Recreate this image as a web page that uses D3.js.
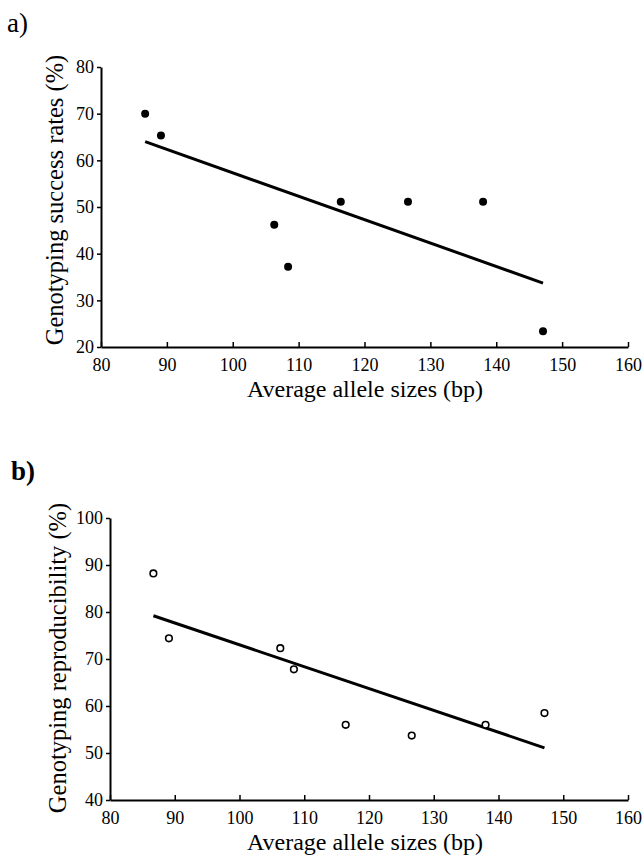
<!DOCTYPE html>
<html>
<head>
<meta charset="utf-8">
<script src="https://cdn.jsdelivr.net/npm/d3@7"></script>
<style>
  body { margin: 0; background: #fff; }
  svg, text { font-family: "Liberation Serif", "Times New Roman", serif; fill: #000; }
</style>
</head>
<body>
<div id="chart"></div>
<script>
// allele sizes (bp), same for both panels
const alleleSizes = [86.7, 89.1, 106.3, 108.4, 116.4, 126.6, 138.0, 147.1];
// panel a: genotyping success rates (%)
const successRates = [70.0, 65.3, 46.2, 37.2, 51.1, 51.1, 51.1, 23.4];
// panel b: genotyping reproducibility (%)
const reproducibility = [88.2, 74.4, 72.3, 67.8, 56.0, 53.7, 56.0, 58.5];
// regression lines (end points)
const fitX = [86.7, 147.1];
const fitA = [64.0, 33.7];
const fitB = [79.2, 51.1];

const xTicks = [80, 90, 100, 110, 120, 130, 140, 150, 160];
const yTicksA = [20, 30, 40, 50, 60, 70, 80];
const yTicksB = [40, 50, 60, 70, 80, 90, 100];

const serif = '"Liberation Serif", "Times New Roman", serif';

const svg = d3.select("#chart").append("svg")
    .attr("width", 644)
    .attr("height", 858);

function panel(opts) {
    const x = d3.scaleLinear().domain([80, 160]).range([opts.left, 628]);
    const y = d3.scaleLinear().domain(opts.yDomain).range([opts.bottom, opts.top]);

    const g = svg.append("g");

    // x axis, ticks pointing up
    const xAxis = g.append("g")
        .attr("transform", `translate(0,${opts.bottom})`)
        .call(d3.axisBottom(x).tickValues(xTicks).tickSize(-5).tickPadding(11).tickSizeOuter(0));
    xAxis.attr("font-family", serif);
    xAxis.select(".domain").attr("stroke-width", 2);
    xAxis.selectAll(".tick line").attr("stroke-width", 1.5);
    xAxis.selectAll("text").attr("font-size", 18);

    // y axis
    const yAxis = g.append("g")
        .attr("transform", `translate(${opts.left},0)`)
        .call(d3.axisLeft(y).tickValues(opts.yTicks).tickSize(4).tickPadding(3).tickSizeOuter(0));
    yAxis.attr("font-family", serif);
    yAxis.select(".domain").attr("stroke-width", 2);
    yAxis.selectAll(".tick line").attr("stroke-width", 1.5);
    yAxis.selectAll("text").attr("font-size", 18);

    // axis titles
    g.append("text")
        .attr("x", 365)
        .attr("y", opts.bottom + 50)
        .attr("text-anchor", "middle")
        .attr("font-size", 24)
        .text("Average allele sizes (bp)");

    g.append("text")
        .attr("transform", `translate(${opts.yTitleX},${opts.yTitleY}) rotate(-90)`)
        .attr("text-anchor", "middle")
        .attr("font-size", 24.5)
        .text(opts.yTitle);

    // panel letter
    g.append("text")
        .attr("x", opts.labelX)
        .attr("y", opts.labelY)
        .attr("font-size", 27)
        .attr("font-weight", opts.labelBold ? "bold" : "normal")
        .text(opts.label);

    // regression line
    g.append("path")
        .datum(fitX.map((d, i) => [d, opts.fit[i]]))
        .attr("fill", "none")
        .attr("stroke", "#000")
        .attr("stroke-width", 3)
        .attr("d", d3.line().x(d => x(d[0])).y(d => y(d[1])));

    // points
    g.selectAll("circle.pt")
        .data(alleleSizes)
        .enter().append("circle")
        .attr("class", "pt")
        .attr("cx", d => x(d))
        .attr("cy", (d, i) => y(opts.values[i]))
        .attr("r", opts.filled ? 4 : 3.3)
        .attr("fill", opts.filled ? "#000" : "#fff")
        .attr("stroke", "#000")
        .attr("stroke-width", opts.filled ? 0 : 1.6);
}

panel({
    left: 101, top: 67, bottom: 347,
    yDomain: [20, 80], yTicks: yTicksA,
    values: successRates, fit: fitA, filled: true,
    yTitle: "Genotyping success rates (%)", yTitleX: 63, yTitleY: 200,
    label: "a)", labelX: 7, labelY: 32, labelBold: false
});

panel({
    left: 110, top: 518, bottom: 800,
    yDomain: [40, 100], yTicks: yTicksB,
    values: reproducibility, fit: fitB, filled: false,
    yTitle: "Genotyping reproducibility (%)", yTitleX: 66, yTitleY: 658,
    label: "b)", labelX: 11, labelY: 480, labelBold: true
});
</script>
</body>
</html>
